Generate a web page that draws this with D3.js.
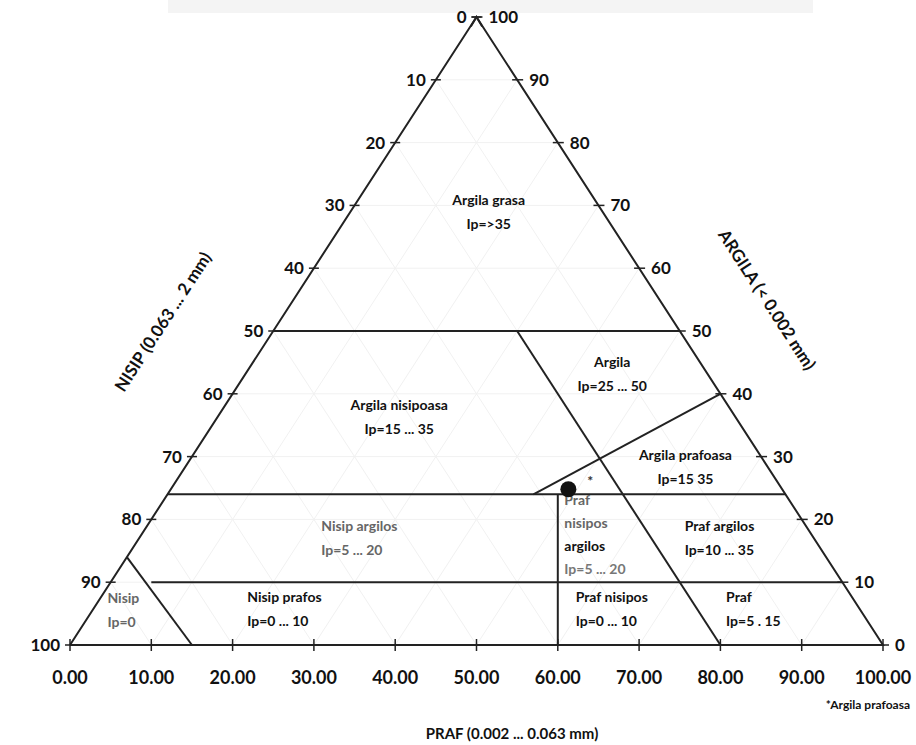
<!DOCTYPE html>
<html>
<head>
<meta charset="utf-8">
<script src="https://cdn.jsdelivr.net/npm/d3@7"></script>
<style>
  html, body { margin: 0; padding: 0; background: #fff; }
  svg { display: block; }
  text { font-family: Lato, "Open Sans", sans-serif; font-weight: bold; }
</style>
</head>
<body>
<svg id="chart" width="916" height="745"></svg>
<script>
// ---- data (Excel-style coordinates: x = praf + argila/2, y = argila) ----
const praffTicks = [0, 10, 20, 30, 40, 50, 60, 70, 80, 90, 100];
const bottomTickLabels = ["0.00","10.00","20.00","30.00","40.00","50.00","60.00","70.00","80.00","90.00","100.00"];
const leftTickLabels = ["0","10","20","30","40","50","60","70","80","90","100"];   // NISIP, top -> bottom
const rightTickLabels = ["100","90","80","70","60","50","40","30","20","10","0"];  // ARGILA, top -> bottom
const gridSteps = [10, 20, 30, 40, 50, 60, 70, 80, 90];

const outline = [[0, 0], [50, 100], [100, 0], [0, 0]];
const boundaryLines = [
  [[25, 50], [75, 50]],     // argila 50
  [[12, 24], [88, 24]],     // argila ~24
  [[10, 10], [95, 10]],     // argila 10
  [[15, 0], [7, 14]],       // nisip triangle
  [[55, 50], [80, 0]],      // nisip 20
  [[80, 40], [57, 24]],     // argila prafoasa
  [[60, 0], [60, 24]]       // vertical praf boundary
];
const samplePoint = [[61.3, 24.8]];

const regionNames = ["Argila grasa", "Argila nisipoasa", "Argila", "Argila prafoasa", "Nisip argilos",
  "Nisip", "Nisip prafos", "Praf nisipos argilos", "Praf argilos", "Praf nisipos", "Praf"];
const regionIp = ["Ip=>35", "Ip=15 ... 35", "Ip=25 ... 50", "Ip=15   35", "Ip=5 ... 20",
  "Ip=0", "Ip=0 ... 10", "Ip=5 ... 20", "Ip=10 ... 35", "Ip=0 ... 10", "Ip=5  . 15"];
const regionAt = [[51.5, 70.0], [40.5, 37.5], [66.7, 44.2], [75.7, 29.4], [30.9, 18.2],
  [4.6, 6.7], [21.8, 6.9], [60.8, 22.3], [75.6, 18.1], [62.2, 6.9], [80.7, 6.9]];

const svg = d3.select("#chart");
const x = d3.scaleLinear().domain([0, 100]).range([70, 883]);
const y = d3.scaleLinear().domain([0, 100]).range([645, 17]);
const line = d3.line().x(d => x(d[0])).y(d => y(d[1]));

// faint scan band at top
svg.append("rect").attr("x", 168).attr("y", 0).attr("width", 645).attr("height", 13).attr("fill", "#f4f4f4");

// faint grid
const g = svg.append("g").attr("stroke", "#f1f1f1").attr("stroke-width", 1).attr("fill", "none");
gridSteps.forEach(v => {
  g.append("path").attr("d", line([[v / 2, v], [100 - v / 2, v]]));
  g.append("path").attr("d", line([[v, 0], [v + (100 - v) / 2, 100 - v]]));
  g.append("path").attr("d", line([[v, 0], [v / 2, v]]));
});

// outline
svg.append("path").attr("d", line(outline)).attr("fill", "none").attr("stroke", "#222").attr("stroke-width", 2);

// boundary lines
svg.append("g").selectAll("path").data(boundaryLines).join("path")
  .attr("d", d => line(d)).attr("fill", "none").attr("stroke", "#222").attr("stroke-width", 2);

// ticks
const tk = svg.append("g").attr("stroke", "#222").attr("stroke-width", 1.5);
praffTicks.forEach(v => {
  tk.append("line").attr("x1", x(v)).attr("x2", x(v)).attr("y1", y(0) - 6).attr("y2", y(0) + 6);
  const lx = x((100 - v) / 2), ly = y(100 - v);
  tk.append("line").attr("x1", lx - 5).attr("x2", lx + 5).attr("y1", ly).attr("y2", ly);
  const rx = x(100 - (100 - v) / 2), ry = y(100 - v);
  tk.append("line").attr("x1", rx - 5).attr("x2", rx + 6).attr("y1", ry).attr("y2", ry);
});

// bottom labels
svg.append("g").selectAll("text").data(bottomTickLabels).join("text")
  .attr("x", (d, i) => x(praffTicks[i])).attr("y", 684).attr("text-anchor", "middle")
  .attr("font-size", 18).attr("fill", "#111").text(d => d);

// left labels
svg.append("g").selectAll("text").data(leftTickLabels).join("text")
  .attr("x", (d, i) => x((100 - praffTicks[i]) / 2) - 10)
  .attr("y", (d, i) => y(100 - praffTicks[i]) + 6)
  .attr("text-anchor", "end").attr("font-size", 17).attr("fill", "#111").text(d => d);

// right labels
svg.append("g").selectAll("text").data(rightTickLabels).join("text")
  .attr("x", (d, i) => x(100 - (100 - praffTicks[i]) / 2) + 12)
  .attr("y", (d, i) => y(100 - praffTicks[i]) + 6)
  .attr("text-anchor", "start").attr("font-size", 17).attr("fill", "#111").text(d => d);

// axis titles
svg.append("text").attr("transform", "translate(168,325) rotate(-57)").attr("text-anchor", "middle")
  .attr("font-size", 17).attr("fill", "#111").text("NISIP (0.063 ... 2 mm)");
svg.append("text").attr("transform", "translate(762,303) rotate(57)").attr("text-anchor", "middle")
  .attr("font-size", 17).attr("fill", "#111").text("ARGILA (< 0.002 mm)");
svg.append("text").attr("x", 512).attr("y", 739).attr("text-anchor", "middle")
  .attr("font-size", 15).attr("fill", "#111").text("PRAF (0.002 ... 0.063 mm)");
svg.append("text").attr("x", 910).attr("y", 709).attr("text-anchor", "end")
  .attr("font-size", 12).attr("fill", "#111").text("*Argila prafoasa");

// region labels
const centred = [0, 1, 2, 3];
regionNames.forEach((name, i) => {
  const p = regionAt[i];
  const anchor = centred.includes(i) ? "middle" : "start";
  const col = (i === 4 || i === 5) ? "#666" : "#111";
  if (i === 7) {
    const parts = ["Praf", "nisipos", "argilos", regionIp[i]];
    const cols = ["#666", "#666", "#111", "#777"];
    parts.forEach((t, k) => {
      svg.append("text").attr("x", x(p[0])).attr("y", y(p[1]) + k * 23)
        .attr("font-size", 14).attr("fill", cols[k]).attr("text-anchor", "start").text(t);
    });
    return;
  }
  svg.append("text").attr("x", x(p[0])).attr("y", y(p[1]))
    .attr("font-size", 14).attr("fill", col).attr("text-anchor", anchor).text(name);
  svg.append("text").attr("x", x(p[0])).attr("y", y(p[1]) + 24)
    .attr("font-size", 14).attr("fill", col).attr("text-anchor", anchor).text(regionIp[i]);
});

// sample point and asterisk
svg.selectAll("circle.pt").data(samplePoint).join("circle").attr("class", "pt")
  .attr("cx", d => x(d[0])).attr("cy", d => y(d[1])).attr("r", 8).attr("fill", "#111");
svg.append("text").attr("x", x(samplePoint[0][0]) + 19).attr("y", y(samplePoint[0][1]) - 3)
  .attr("font-size", 14).attr("fill", "#333").text("*");

// apex mark
svg.append("path").attr("d", line([[49.3, 98.5], [50, 100], [50.7, 98.5]])).attr("fill", "none")
  .attr("stroke", "#222").attr("stroke-width", 2);
</script>
</body>
</html>
